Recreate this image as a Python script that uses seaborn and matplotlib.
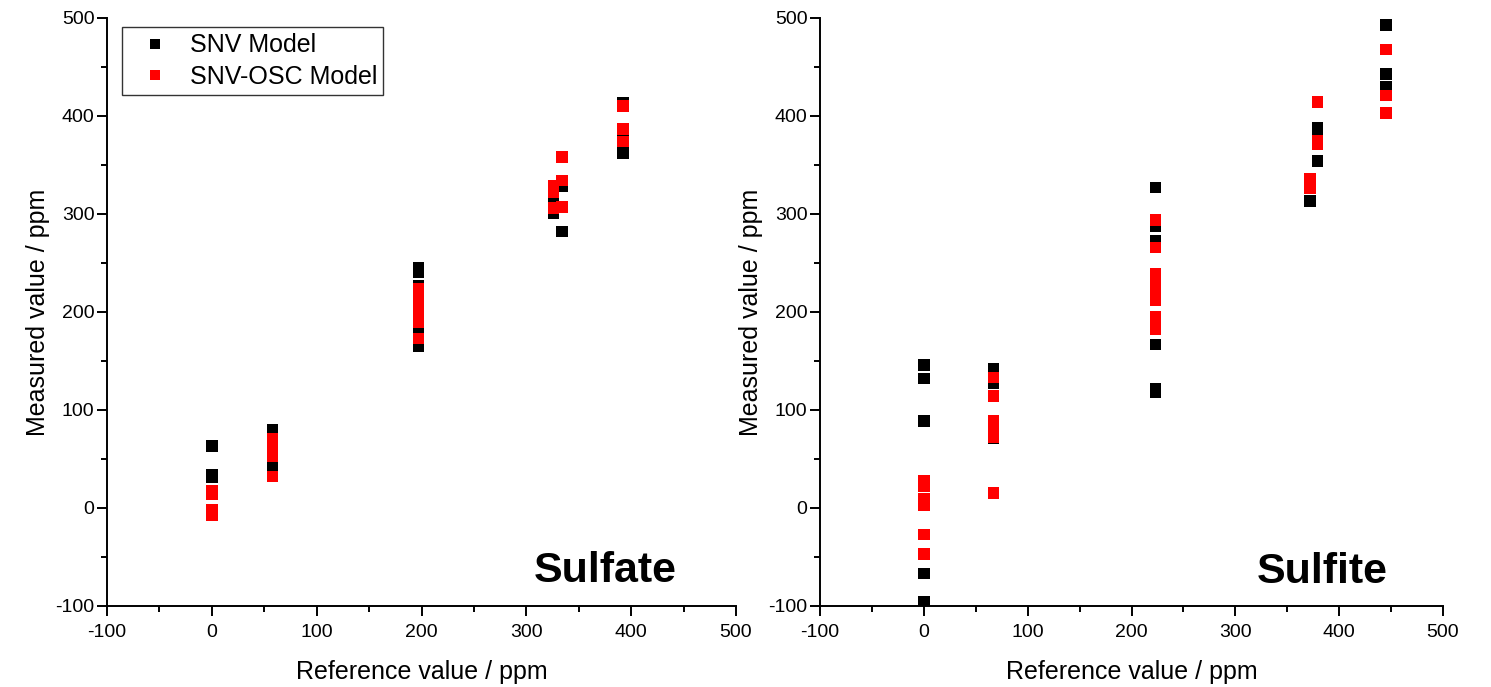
import matplotlib
matplotlib.use("Agg")
import matplotlib.pyplot as plt
import seaborn as sns
import pandas as pd
from matplotlib.ticker import MultipleLocator

# ---------------- data ----------------
# Sulfate panel
sulfate_snv_x = [0, 0, 0, 58, 58, 197, 197, 197, 197, 197, 326, 326, 334, 334, 392, 392, 392]
sulfate_snv_y = [63, 34, 31, 80, 42, 245, 241, 227, 180, 165, 317, 301, 328, 282, 413, 380, 362]
sulfate_osc_x = [0, 0, 0, 0, 58, 58, 58, 58, 58, 197, 197, 197, 197, 197, 197, 326, 326, 326, 334, 334, 334, 392, 392, 392]
sulfate_osc_y = [18, 14, -2, -7, 71, 64, 57, 53, 32, 224, 218, 206, 198, 190, 173, 329, 322, 306, 358, 334, 307, 410, 387, 374]

# Sulfite panel
sulfite_snv_x = [0, 0, 0, 0, 0, 67, 67, 67, 67, 223, 223, 223, 223, 223, 223, 372, 379, 379, 379, 445, 445, 445]
sulfite_snv_y = [146, 132, 89, -67, -96, 142, 127, 82, 71, 327, 288, 273, 167, 122, 118, 313, 388, 383, 354, 493, 443, 430]
sulfite_osc_x = [0, 0, 0, 0, 0, 0, 67, 67, 67, 67, 67, 67, 223, 223, 223, 223, 223, 223, 223, 223, 223, 372, 372, 379, 379, 379, 445, 445, 445]
sulfite_osc_y = [28, 22, 9, 3, -27, -47, 133, 114, 89, 78, 72, 15, 294, 266, 239, 228, 220, 212, 195, 188, 182, 336, 326, 414, 375, 371, 468, 421, 403]

series_names = ["SNV Model", "SNV-OSC Model"]
panel_titles = ["Sulfate", "Sulfite"]


def make_df(snv_x, snv_y, osc_x, osc_y):
    return pd.concat([
        pd.DataFrame({"ref": snv_x, "meas": snv_y, "model": series_names[0]}),
        pd.DataFrame({"ref": osc_x, "meas": osc_y, "model": series_names[1]}),
    ], ignore_index=True)


dfs = [
    make_df(sulfate_snv_x, sulfate_snv_y, sulfate_osc_x, sulfate_osc_y),
    make_df(sulfite_snv_x, sulfite_snv_y, sulfite_osc_x, sulfite_osc_y),
]

# ---------------- style ----------------
sns.set_theme(style="ticks")
plt.rcParams["font.family"] = ["Liberation Sans", "DejaVu Sans"]
plt.rcParams["axes.unicode_minus"] = False
plt.rcParams["text.color"] = "black"
plt.rcParams["axes.labelcolor"] = "black"

W, H = 1491, 687
fig = plt.figure(figsize=(W / 100, H / 100), dpi=100)
boxes = [(107, 18, 736, 606), (820, 18, 1443, 606)]
label_pos = [(375, -64), (384, -65)]

palette = {series_names[0]: "black", series_names[1]: "#ff0000"}

for i, (df, box) in enumerate(zip(dfs, boxes)):
    x0, y0, x1, y1 = box
    ax = fig.add_axes([x0 / W, 1 - y1 / H, (x1 - x0) / W, (y1 - y0) / H])
    sns.scatterplot(data=df, x="ref", y="meas", hue="model", palette=palette,
                    marker="s", s=70, linewidth=0, ax=ax, legend=(i == 0), zorder=3)
    ax.set_xlim(-100, 500)
    ax.set_ylim(-100, 500)
    ax.xaxis.set_major_locator(MultipleLocator(100))
    ax.xaxis.set_minor_locator(MultipleLocator(50))
    ax.yaxis.set_major_locator(MultipleLocator(100))
    ax.yaxis.set_minor_locator(MultipleLocator(50))
    for s in ["top", "right"]:
        ax.spines[s].set_visible(False)
    for s in ["left", "bottom"]:
        ax.spines[s].set_linewidth(1.4)
        ax.spines[s].set_color("black")
    ax.tick_params(which="major", direction="out", length=7, width=1.4,
                   labelsize=14, colors="black", labelcolor="black")
    ax.tick_params(axis="x", which="major", pad=6)
    ax.tick_params(axis="y", which="major", pad=2)
    ax.tick_params(which="minor", direction="out", length=4, width=1.4, colors="black")
    ax.set_xlabel("Reference value / ppm", fontsize=18, labelpad=14, color="black")
    ax.set_ylabel("Measured value / ppm", fontsize=18, labelpad=4, color="black")
    ax.text(label_pos[i][0], label_pos[i][1], panel_titles[i], fontsize=31,
            fontweight="bold", ha="center", va="center", color="black")
    ax.set_facecolor("white")
    if i == 0:
        leg = ax.legend(loc="upper left", bbox_to_anchor=(122 / W, 1 - 27 / H),
                        bbox_transform=fig.transFigure, fontsize=18,
                        frameon=True, fancybox=False, edgecolor="black",
                        markerscale=0.85, handletextpad=0.3, borderpad=0.25,
                        borderaxespad=0, labelspacing=0.3, handlelength=2.15)
        leg.get_frame().set_linewidth(1.0)
        for t in leg.get_texts():
            t.set_color("black")

fig.savefig("out.png", dpi=100, facecolor="white")
